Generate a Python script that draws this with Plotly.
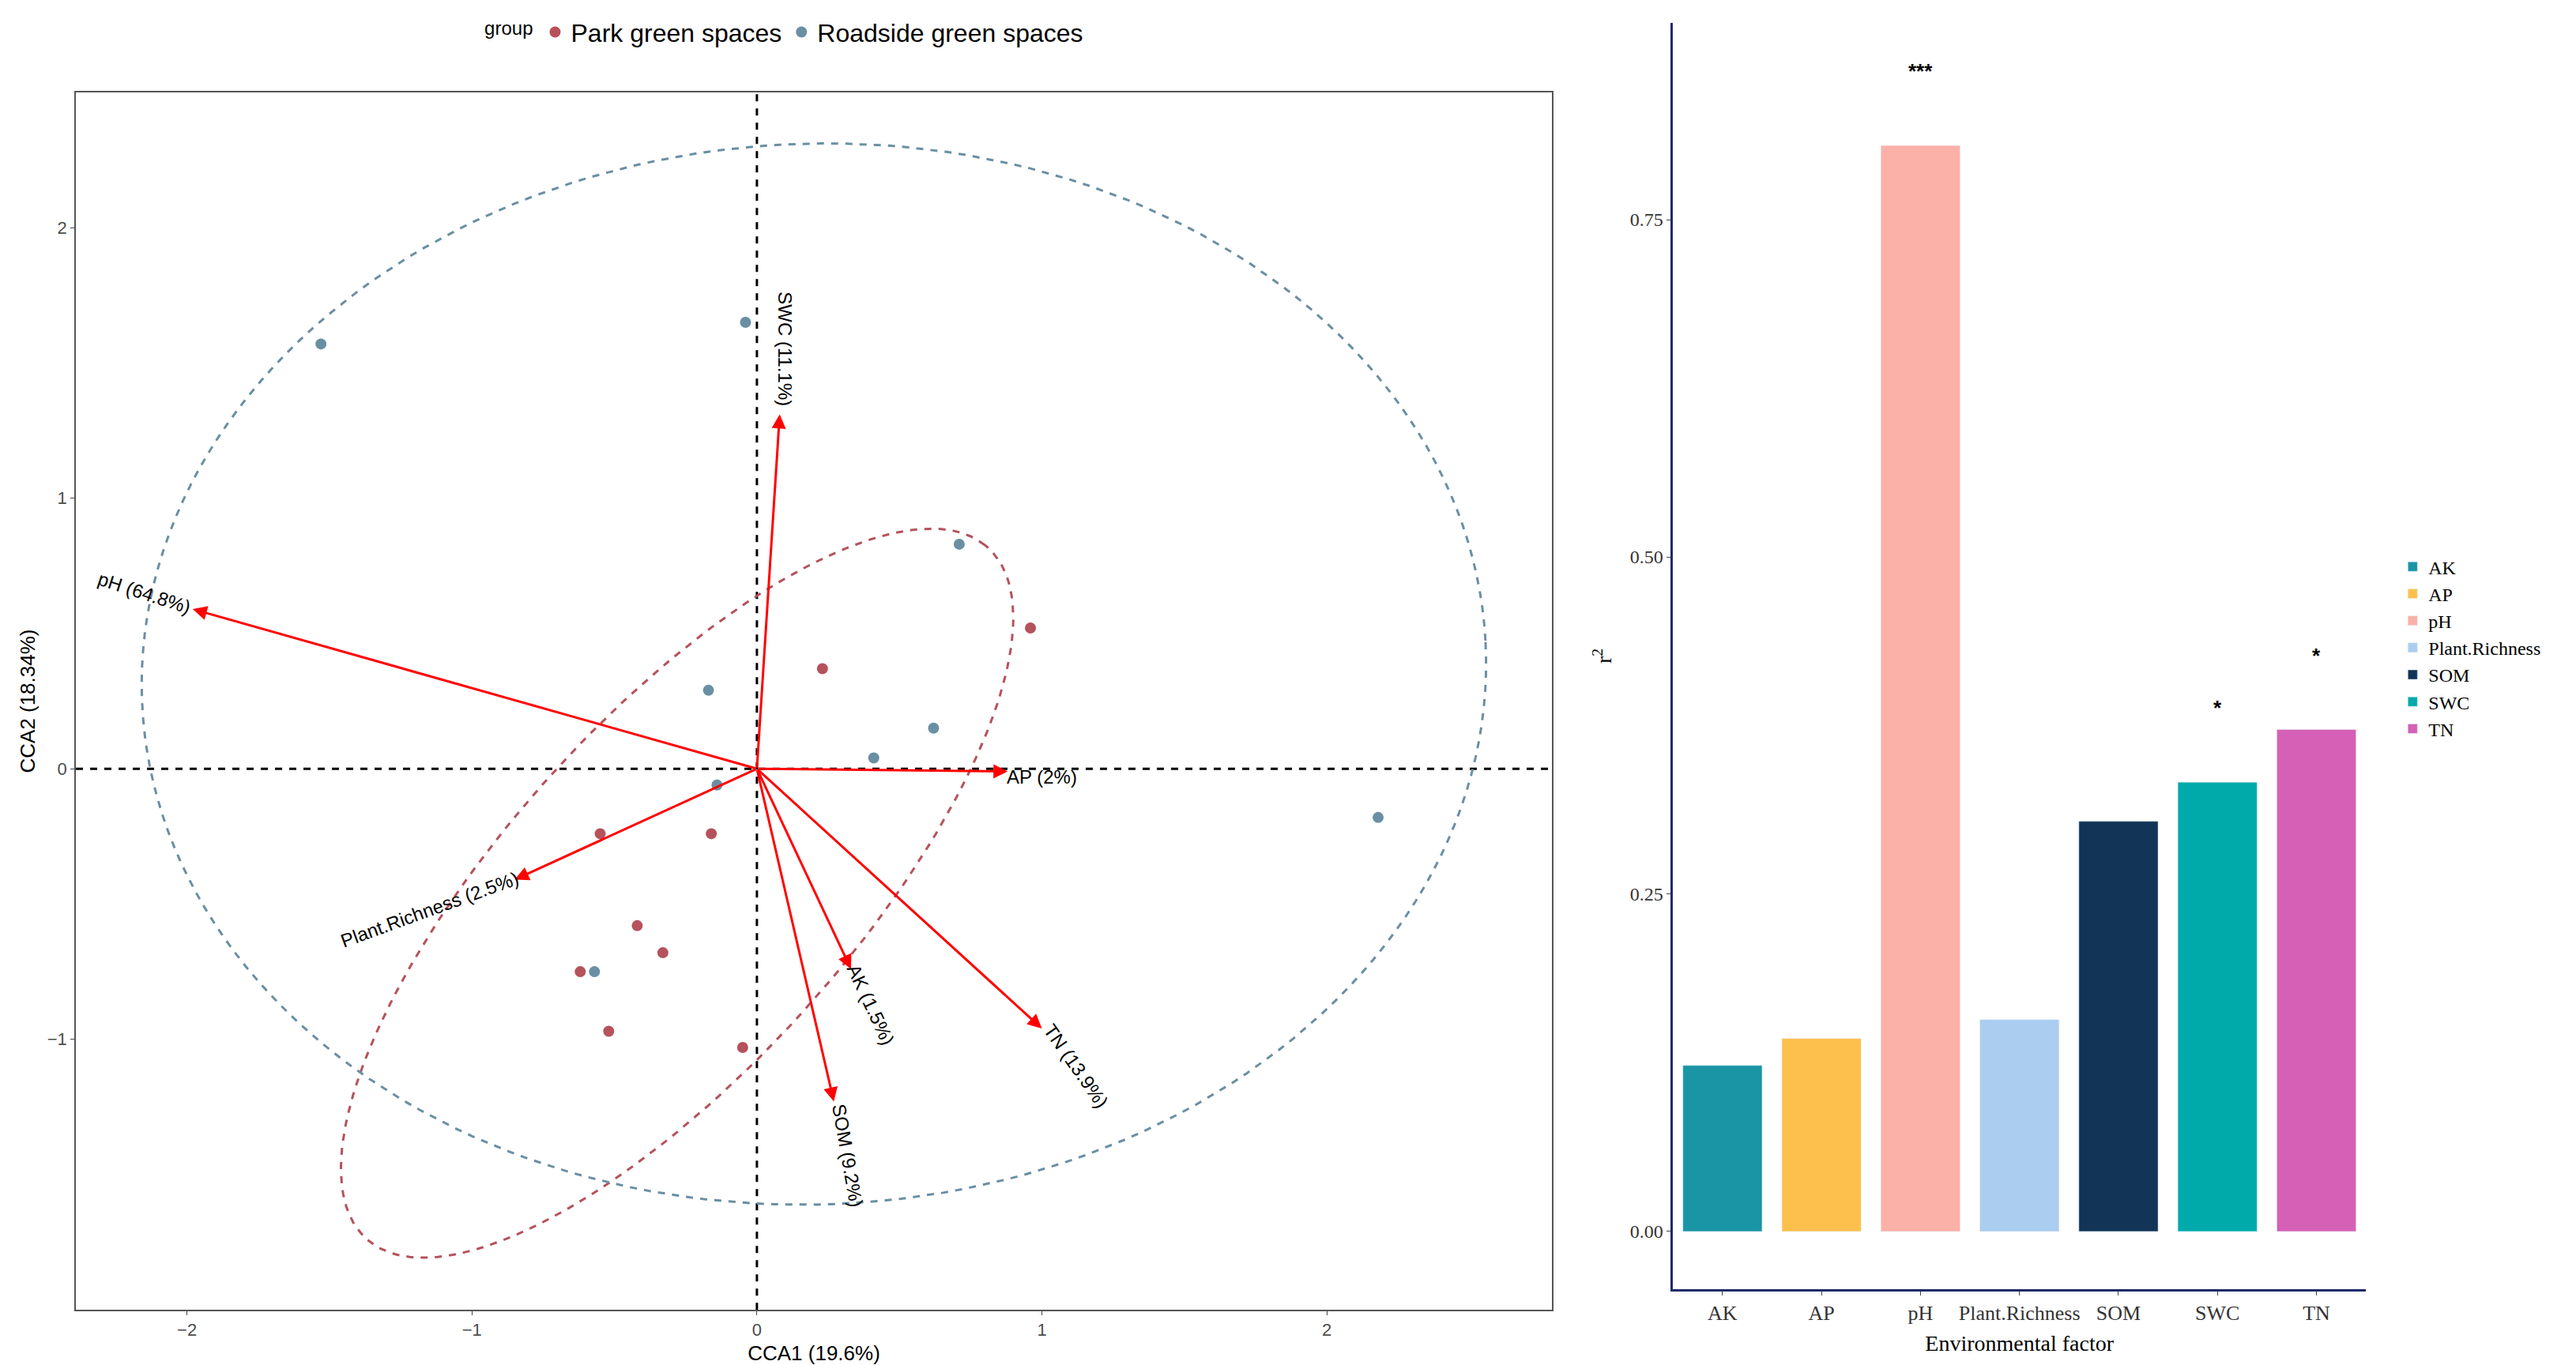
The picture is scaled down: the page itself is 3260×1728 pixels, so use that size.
import numpy as np
import plotly.graph_objects as go

# ---- data ----
park_x = [0.23, 0.96, -0.55, -0.16, -0.42, -0.33, -0.62, -0.52, -0.05]
park_y = [0.37, 0.52, -0.24, -0.24, -0.58, -0.68, -0.75, -0.97, -1.03]
road_x = [-1.53, -0.04, 0.71, -0.17, 0.62, 0.41, -0.14, 2.18, -0.57]
road_y = [1.57, 1.65, 0.83, 0.29, 0.15, 0.04, -0.06, -0.18, -0.75]

env_names = ["SWC (11.1%)", "pH (64.8%)", "AP (2%)", "Plant.Richness (2.5%)", "AK (1.5%)", "TN (13.9%)", "SOM (9.2%)"]
env_x = [0.08, -1.98, 0.88, -0.85, 0.33, 1.00, 0.27]
env_y = [1.31, 0.59, -0.01, -0.41, -0.74, -0.96, -1.23]
lab_x = [0.10, -2.15, 1.00, -1.15, 0.40, 1.12, 0.32]
lab_y = [1.55, 0.65, -0.03, -0.52, -0.87, -1.10, -1.43]
lab_ang = [-90, 18, 0, -20, 65, 55, 80]

# ellipse params: cx, cy, semi-a, semi-b, angle(deg)
ell_park = (-0.28, -0.46, 1.68, 0.62, 50)
ell_road = (0.20, 0.35, 2.36, 1.96, 3)

bar_cats = ["AK", "AP", "pH", "Plant.Richness", "SOM", "SWC", "TN"]
bar_vals = [0.123, 0.143, 0.805, 0.157, 0.304, 0.333, 0.372]
bar_sig = ["", "", "***", "", "", "*", "*"]
bar_cols = ["#1a95a5", "#fdc04c", "#fbb0a8", "#abcdef", "#123457", "#00aaaa", "#d660b5"]

PARK = "#b5525c"
ROAD = "#6a8fa3"
XR = [-2.39, 2.79]
YR = [-2.0, 2.5]

def ellipse(p):
    cx, cy, a, b, ang = p
    t = np.linspace(0, 2 * np.pi, 200)
    th = np.deg2rad(ang)
    x = cx + a * np.cos(t) * np.cos(th) - b * np.sin(t) * np.sin(th)
    y = cy + a * np.cos(t) * np.sin(th) + b * np.sin(t) * np.cos(th)
    return x, y

fig = go.Figure()
fig.add_trace(go.Scatter(x=[0, 0], y=YR, mode="lines", line=dict(color="black", dash="dash", width=3),
                         showlegend=False, hoverinfo="skip"))
fig.add_trace(go.Scatter(x=XR, y=[0, 0], mode="lines", line=dict(color="black", dash="dash", width=3),
                         showlegend=False, hoverinfo="skip"))
for p, col in [(ell_park, PARK), (ell_road, ROAD)]:
    ex, ey = ellipse(p)
    fig.add_trace(go.Scatter(x=ex, y=ey, mode="lines", line=dict(color=col, dash="dash", width=3),
                             showlegend=False, hoverinfo="skip", xaxis="x", yaxis="y"))
fig.add_trace(go.Scatter(x=park_x, y=park_y, mode="markers", name="Park green spaces",
                         marker=dict(color=PARK, size=14), xaxis="x", yaxis="y", legend="legend"))
fig.add_trace(go.Scatter(x=road_x, y=road_y, mode="markers", name="Roadside green spaces",
                         marker=dict(color=ROAD, size=14), xaxis="x", yaxis="y", legend="legend"))

for c, v, col in zip(bar_cats, bar_vals, bar_cols):
    fig.add_trace(go.Bar(x=[c], y=[v], name=c, marker_color=col, width=0.8,
                         xaxis="x2", yaxis="y2", legend="legend2"))

ann = []
for n, x, y, lx, ly, a in zip(env_names, env_x, env_y, lab_x, lab_y, lab_ang):
    ann.append(dict(x=x, y=y, ax=0, ay=0, axref="x", ayref="y", xref="x", yref="y",
                    showarrow=True, arrowhead=2, arrowsize=1.2, arrowwidth=3, arrowcolor="red", text=""))
    ann.append(dict(x=lx, y=ly, xref="x", yref="y", text=n, showarrow=False, textangle=a if a != -90 else 90,
                    font=dict(size=24, color="black", family="Liberation Sans")))
for c, v, s in zip(bar_cats, bar_vals, bar_sig):
    if s:
        ann.append(dict(x=c, y=v + 0.055, xref="x2", yref="y2", text="<b>" + s + "</b>", showarrow=False,
                        font=dict(size=26, color="black")))

fig.update_layout(
    width=3260, height=1728, plot_bgcolor="white", paper_bgcolor="white",
    margin=dict(l=0, r=0, t=0, b=0),
    font=dict(family="Liberation Sans", size=22, color="#4d4d4d"),
    barmode="overlay",
    xaxis=dict(domain=[0.027, 0.600], range=XR, tickvals=[-2, -1, 0, 1, 2],
               showgrid=False, zeroline=False,
               showline=True, mirror=True, linecolor="#555555", linewidth=1.5, ticks="outside",
               title=dict(text="CCA1 (19.6%)", font=dict(size=26, color="black"), standoff=8)),
    yaxis=dict(domain=[0.045, 0.937], range=YR, tickvals=[-1, 0, 1, 2],
               showgrid=False, zeroline=False,
               showline=True, mirror=True, linecolor="#555555", linewidth=1.5, ticks="outside",
               title=dict(text="CCA2 (18.34%)", font=dict(size=26, color="black"), standoff=8)),
    xaxis2=dict(domain=[0.647, 0.916], anchor="y2", showgrid=False, showline=True, linecolor="#1f2a6b",
                linewidth=2.5, ticks="outside", tickfont=dict(family="Liberation Serif", size=26, color="#333"),
                title=dict(text="Environmental factor", font=dict(family="Liberation Serif", size=28, color="black"))),
    yaxis2=dict(domain=[0.06, 0.988], anchor="x2", range=[-0.043, 0.896], showgrid=False, zeroline=False,
                showline=True, linecolor="#1f2a6b", linewidth=2.5, ticks="outside",
                tickvals=[0, 0.25, 0.5, 0.75], ticktext=["0.00", "0.25", "0.50", "0.75"],
                tickfont=dict(family="Liberation Serif", size=24, color="#333"),
                title=dict(text="r<sup>2</sup>", font=dict(family="Liberation Serif", size=28, color="black"))),
    legend=dict(orientation="h", x=0.185, y=0.997, xanchor="left", yanchor="top",
                title=dict(text="group", font=dict(size=24, color="black")),
                font=dict(size=32, color="black")),
    legend2=dict(x=0.928, y=0.53, xanchor="left", yanchor="middle",
                 font=dict(family="Liberation Serif", size=24, color="black"), tracegroupgap=4),
    annotations=ann,
)
fig.write_html("out.html")
